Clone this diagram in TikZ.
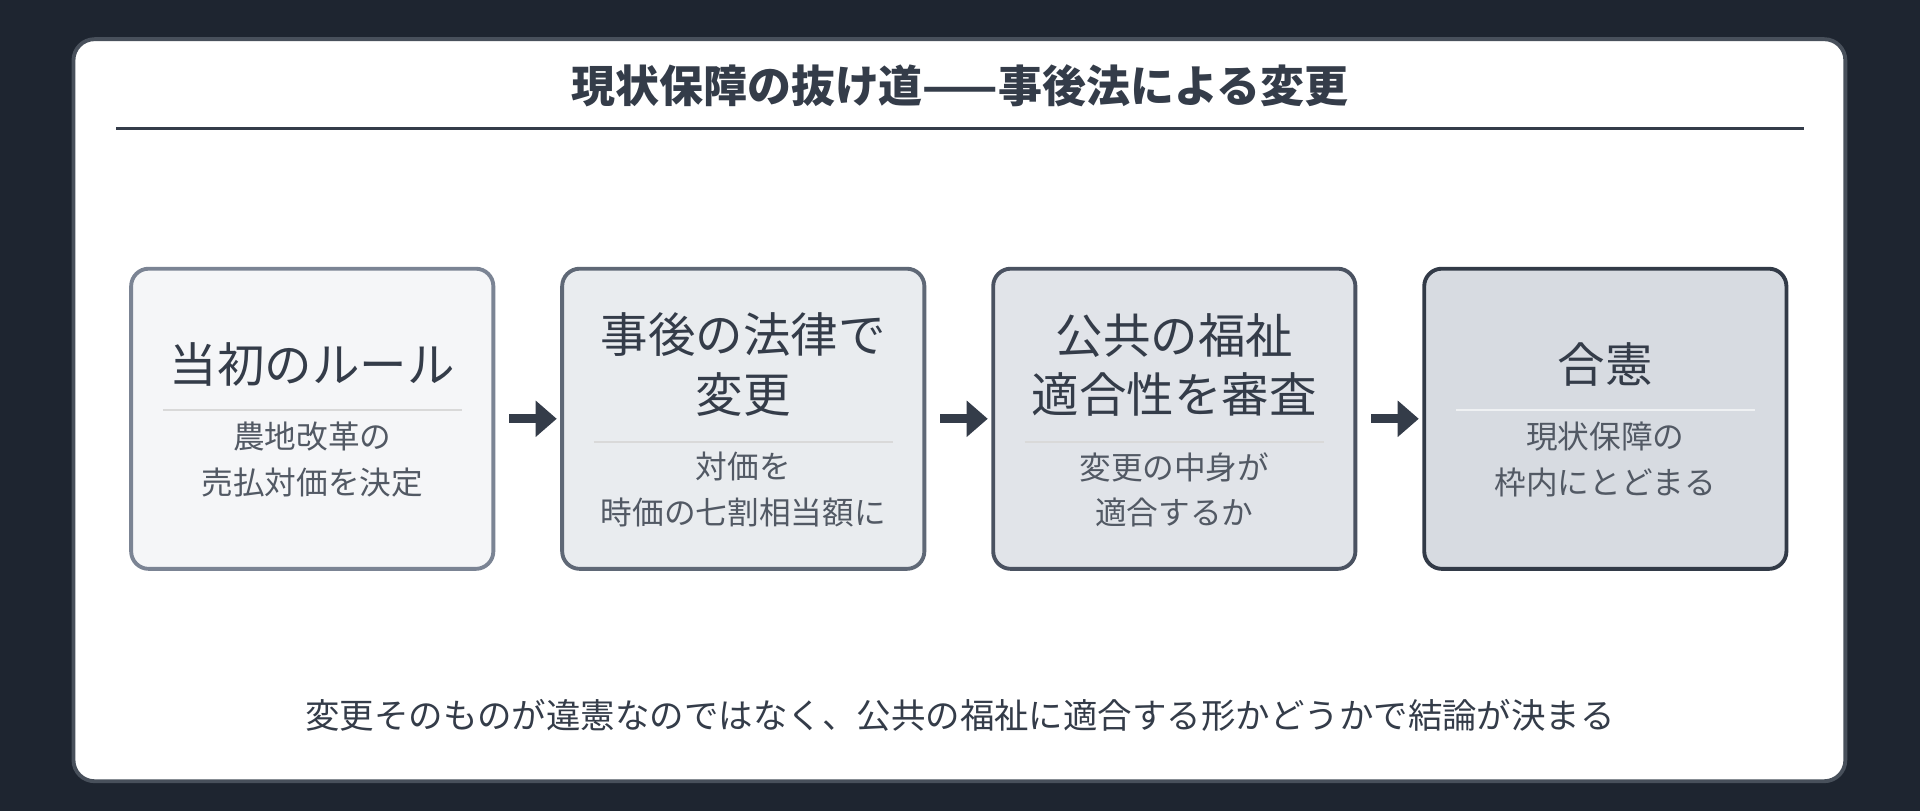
\documentclass[tikz,border=0pt]{standalone}
\usepackage{fontspec}
\setmainfont{Noto Sans CJK JP}
\usetikzlibrary{arrows.meta}
\definecolor{bgdark}{HTML}{1E2530}
\definecolor{ink}{HTML}{343C49}
\definecolor{fillA}{HTML}{F5F6F8}
\definecolor{fillB}{HTML}{E9ECEF}
\definecolor{fillC}{HTML}{E1E4E9}
\definecolor{fillD}{HTML}{D7DBE1}
\definecolor{edgeA}{HTML}{7B8494}
\definecolor{edgeB}{HTML}{5F6876}
\definecolor{edgeC}{HTML}{4A5261}
\definecolor{edgeD}{HTML}{323A47}
\tikzset{
  stage/.style={draw, rounded corners=5pt, line width=1.1pt, minimum width=3.62cm, minimum height=3cm, inner sep=0pt},
  head/.style={text=ink, font=\fontsize{13.5}{17}\selectfont, align=center},
  sub/.style={text=ink!85, font=\fontsize{9}{13}\selectfont, align=center},
  sep/.style={draw=black!15, line width=0.5pt},
  flow/.style={-{Triangle[length=6pt,width=10pt]}, line width=2.6pt, draw=ink, shorten <=4pt, shorten >=1pt}
}
\begin{document}
\begin{tikzpicture}[x=0.012245cm, y=-0.012245cm]
  \fill[bgdark] (0,0) rectangle (1568,662);
  \useasboundingbox (0,0) rectangle (1568,662);
  \draw[fill=white, draw=ink!90, line width=1.1pt, rounded corners=6pt] (60,32) rectangle (1507,638);
  \node (title) [text=ink, font=\bfseries\fontsize{12.5}{15}\selectfont] at (784,70) {現状保障の抜け道——事後法による変更};
  \draw[ink, line width=0.8pt] (95,105) -- (1473,105);
  % stages
  \node (b1) [stage, fill=fillA, draw=edgeA] at (255,342) {};
  \node (b2) [stage, fill=fillB, draw=edgeB] at (607,342) {};
  \node (b3) [stage, fill=fillC, draw=edgeC] at (959,342) {};
  \node (b4) [stage, fill=fillD, draw=edgeD] at (1311,342) {};
  \node (h1) [head] at (255,298) {当初のルール};
  \draw[sep] (133,335) -- (377,335);
  \node (s1) [sub] at (255,375) {農地改革の\\売払対価を決定};
  \node (h2) [head] at (607,298) {事後の法律で\\変更};
  \draw[sep] (485,361) -- (729,361);
  \node (s2) [sub] at (607,400) {対価を\\時価の七割相当額に};
  \node (h3) [head] at (959,298) {公共の福祉\\適合性を審査};
  \draw[sep] (837,361) -- (1081,361);
  \node (s3) [sub] at (959,400) {変更の中身が\\適合するか};
  \node (h4) [head] at (1311,298) {合憲};
  \draw[sep, draw=white!60!fillD] (1189,335) -- (1433,335);
  \node (s4) [sub] at (1311,375) {現状保障の\\枠内にとどまる};
  \draw[flow] (b1) -- (b2);
  \draw[flow] (b2) -- (b3);
  \draw[flow] (b3) -- (b4);
  \node (note) [text=ink, font=\fontsize{9.8}{12}\selectfont] at (784,584) {変更そのものが違憲なのではなく、公共の福祉に適合する形かどうかで結論が決まる};
\end{tikzpicture}
\end{document}
